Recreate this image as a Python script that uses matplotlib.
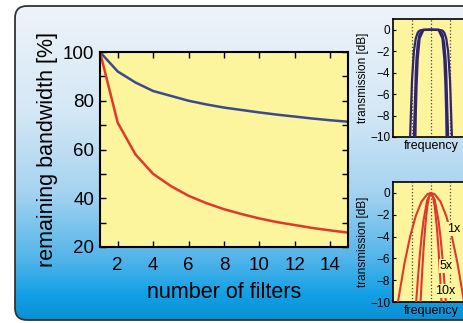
import numpy as np
import matplotlib.pyplot as plt
from matplotlib.colors import LinearSegmentedColormap
from matplotlib.patches import FancyBboxPatch

plt.rcParams['font.family'] = ['Liberation Sans', 'DejaVu Sans']

# main plot: remaining bandwidth vs number of cascaded filters
n_filters = list(range(1, 16))
bw_flattop = [100, 92, 87.5, 84, 82, 80, 78.5, 77.2, 76.2, 75.2, 74.3, 73.5, 72.7, 72, 71.4]
bw_gauss = [100, 71, 58, 50, 45, 41, 38, 35.5, 33.5, 31.7, 30.2, 29, 27.8, 26.8, 25.9]

# top inset: flat-top filter, 1x / 5x / 10x
ft_freq = [-0.55, -0.5, -0.45, -0.4, -0.35, -0.3, -0.2, 0, 0.2, 0.3, 0.35, 0.4, 0.45, 0.5, 0.55]
ft_1x = [-10, -4.7, -2.0, -0.8, -0.27, -0.08, 0, 0, 0, -0.08, -0.27, -0.8, -2.0, -4.7, -10]
ft_freq_5 = [-0.45, -0.42, -0.4, -0.38, -0.35, -0.3, -0.2, 0, 0.2, 0.3, 0.35, 0.38, 0.4, 0.42, 0.45]
ft_5x = [-10, -6.4, -3.9, -2.6, -1.35, -0.4, -0.02, 0, -0.02, -0.4, -1.35, -2.6, -3.9, -6.4, -10]
ft_freq_10 = [-0.41, -0.4, -0.38, -0.35, -0.3, -0.2, 0, 0.2, 0.3, 0.35, 0.38, 0.4, 0.41]
ft_10x = [-10, -7.8, -5.2, -2.7, -0.8, -0.03, 0, -0.03, -0.8, -2.7, -5.2, -7.8, -10]

# bottom inset: gaussian filter, 1x / 5x / 10x
g_freq_1 = [-0.87, -0.7, -0.55, -0.4, -0.25, -0.1, 0, 0.1, 0.25, 0.4, 0.55, 0.7, 0.87, 1.0]
g_1x = [-10, -6.5, -4.0, -2.1, -0.8, -0.13, 0, -0.13, -0.8, -2.1, -4.0, -6.5, -10, -13.2]
g_freq_5 = [-0.39, -0.35, -0.3, -0.25, -0.2, -0.1, 0, 0.1, 0.2, 0.25, 0.3, 0.35, 0.39]
g_5x = [-10, -8.1, -5.9, -4.1, -2.6, -0.66, 0, -0.66, -2.6, -4.1, -5.9, -8.1, -10]
g_freq_10 = [-0.275, -0.25, -0.2, -0.15, -0.1, -0.05, 0, 0.05, 0.1, 0.15, 0.2, 0.25, 0.275]
g_10x = [-10, -8.3, -5.3, -3.0, -1.3, -0.33, 0, -0.33, -1.3, -3.0, -5.3, -8.3, -10]

yellow = '#fdf49e'
blue_line = '#3b4a8c'
red_line = '#e0382a'
purple = '#2e2472'

fig = plt.figure(figsize=(4.64, 3.23), dpi=100)
fig.patch.set_facecolor('white')

# background panel with gradient
bg = fig.add_axes([0, 0, 1, 1])
bg.set_xlim(0, 464)
bg.set_ylim(323, 0)
bg.axis('off')
cmap = LinearSegmentedColormap.from_list(
    'bg', [(0, '#eef3f9'), (0.35, '#d2e7f5'), (0.6, '#a3d2f0'),
           (0.8, '#55b5ea'), (0.92, '#12a0e4'), (1, '#0a90d4')])
grad = np.linspace(0, 1, 256).reshape(-1, 1)
im = bg.imshow(grad, cmap=cmap, extent=[15, 490, 320, 6], aspect='auto')
panel = FancyBboxPatch((15, 6), 475, 314, boxstyle='round,pad=0,rounding_size=12',
                       facecolor='none', edgecolor='#333333', linewidth=1.3)
bg.add_patch(panel)
im.set_clip_path(panel)

# main axes
ax = fig.add_axes([0.2155, 0.2353, 0.5345, 0.6037])
ax.set_facecolor(yellow)
ax.plot(n_filters, bw_flattop, color=blue_line, lw=1.8)
ax.plot(n_filters, bw_gauss, color=red_line, lw=1.8)
ax.set_xlim(1, 15)
ax.set_ylim(20, 100)
ax.set_xticks(range(2, 15, 2))
ax.set_yticks(range(20, 101, 20))
ax.set_yticks(range(30, 100, 20), minor=True)
ax.tick_params(direction='in', top=True, right=True, labelsize=13.5, length=4, width=1)
ax.tick_params(axis='x', pad=7)
ax.tick_params(axis='y', pad=4)
ax.tick_params(which='minor', direction='in', right=True, length=4, width=1)
for s in ax.spines.values():
    s.set_linewidth(1.5)
ax.set_xlabel('number of filters', fontsize=15.5, labelpad=6)
ax.set_ylabel('remaining bandwidth [%]', fontsize=15.5, labelpad=4)


def inset(rect):
    a = fig.add_axes(rect)
    a.set_facecolor(yellow)
    a.set_xlim(-1, 1)
    a.set_ylim(-10, 1)
    a.set_yticks(range(-10, 1, 2))
    a.set_xticks([])
    a.tick_params(direction='in', labelsize=8.5, length=2, pad=2)
    for s in a.spines.values():
        s.set_linewidth(1.2)
    for xv in (-0.5, 0, 0.5):
        a.axvline(xv, color='#444444', ls=':', lw=0.9, zorder=1)
    a.set_xlabel('frequency', fontsize=9, labelpad=2)
    a.set_ylabel('transmission [dB]', fontsize=8.5, labelpad=1)
    return a


top = inset([0.847, 0.5759, 0.1638, 0.3653])
top.plot(ft_freq, ft_1x, color=purple, lw=1.6, zorder=3)
top.plot(ft_freq_5, ft_5x, color=purple, lw=1.6, zorder=3)
top.plot(ft_freq_10, ft_10x, color=purple, lw=1.6, zorder=3)

bot = inset([0.847, 0.065, 0.1638, 0.3715])
bot.plot(g_freq_1, g_1x, color=red_line, lw=1.5, zorder=3)
bot.plot(g_freq_5, g_5x, color=red_line, lw=1.5, zorder=3)
bot.plot(g_freq_10, g_10x, color=red_line, lw=1.5, zorder=3)
lbl = dict(fontsize=9, ha='center', va='center', zorder=5,
           bbox=dict(facecolor=yellow, edgecolor='none', pad=0.5))
bot.text(0.6, -3.3, '1x', **lbl)
bot.text(0.39, -6.7, '5x', **lbl)
bot.text(0.37, -9.0, '10x', **lbl)

fig.savefig('out.png', dpi=100)
